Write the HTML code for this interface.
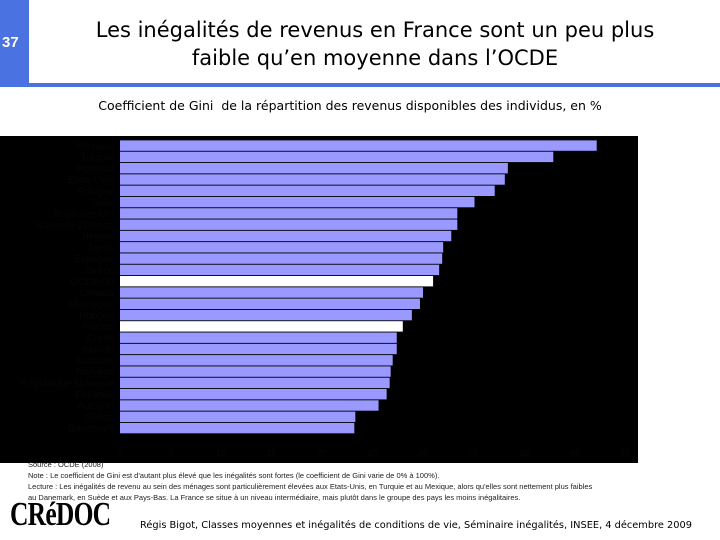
<!DOCTYPE html>
<html><head><meta charset="utf-8"><style>
body{margin:0;width:720px;height:540px;background:#fff;position:relative;overflow:hidden;font-family:"Liberation Sans",sans-serif}
.a{position:absolute}
</style></head><body>
<div class="a" style="left:0;top:0;width:29px;height:84px;background:#4a72e0"></div>
<div class="a" style="left:2px;top:34px;color:#fff;font-weight:bold;font-size:15px">37</div>
<div class="a" style="left:0;top:83px;width:720px;height:4px;background:#4a72e0"></div>
<div class="a" style="left:30px;top:16px;width:690px;text-align:center;font-family:'DejaVu Sans',sans-serif;font-size:21px;line-height:28px;color:#000">Les inégalités de revenus en France sont un peu plus<br>faible qu’en moyenne dans l’OCDE</div>
<div class="a" style="left:0;top:98px;width:700px;text-align:center;font-family:'DejaVu Sans',sans-serif;font-size:12.5px;color:#000">Coefficient de Gini &nbsp;de la répartition des revenus disponibles des individus, en %</div>
<svg class="a" style="left:0;top:0" width="720" height="540">
<rect x="0" y="136" width="638" height="327" fill="#000"/>
<g id="bars"></g><g id="ticks"></g>
</svg>
<div class="a" style="left:28px;top:459px;font-size:7.5px;line-height:11px;color:#222;width:690px">Source : OCDE (2008)<br>Note : Le coefficient de Gini est d'autant plus élevé que les inégalités sont fortes (le coefficient de Gini varie de 0% à 100%).<br>Lecture : Les inégalités de revenu au sein des ménages sont particulièrement élevées aux Etats-Unis, en Turquie et au Mexique, alors qu'elles sont nettement plus faibles<br>au Danemark, en Suède et aux Pays-Bas. La France se situe à un niveau intermédiaire, mais plutôt dans le groupe des pays les moins inégalitaires.</div>
<div class="a" style="left:10px;top:496px;font-family:'Liberation Serif',serif;font-weight:bold;font-size:34px;transform:scaleX(0.75);transform-origin:left;letter-spacing:-1px">CRéDOC</div>
<div class="a" style="left:140px;top:520px;font-family:'DejaVu Sans',sans-serif;font-size:9.8px;white-space:nowrap;color:#000">Régis Bigot, Classes moyennes et inégalités de conditions de vie, Séminaire inégalités, INSEE, 4 décembre 2009</div>
<script>
const countries=["Mexique","Turquie","Portugal","Etats-Unis","Pologne","Italie","Royaume-Uni","Nouvelle-Zélande","Irlande","Japon","Espagne","Grèce","OCDE-30","Canada","Allemagne","Hongrie","France","Corée","Islande","Australie","Norvège","République slovaque","Finlande","Autriche","Suède","Danemark"];
const gini=[47.2,42.9,38.4,38.1,37.1,35.1,33.4,33.4,32.8,32.0,31.9,31.6,31.0,30.0,29.7,28.9,28.0,27.4,27.4,27.0,26.8,26.7,26.4,25.6,23.3,23.2];
const highlight=["OCDE-30","France"];
const tickVals=[0,5,10,15,20,25,30,35,40,45,50];
const x0=120,pxPer=10.1,y0=140,pitch=11.3;
const X=v=>x0+v*pxPer, Y=i=>y0+i*pitch;
const NS="http://www.w3.org/2000/svg";
const g=document.getElementById('bars');
countries.forEach((c,i)=>{
 const r=document.createElementNS(NS,'rect');
 r.setAttribute('x',x0);r.setAttribute('y',Y(i)+0.4);
 r.setAttribute('width',X(gini[i])-x0);r.setAttribute('height',pitch-0.9);
 r.setAttribute('fill',highlight.includes(c)?'#fff':'#9999ff');
 
 
 g.appendChild(r);
 const t=document.createElementNS(NS,'text');
 t.setAttribute('x',x0-6);t.setAttribute('y',Y(i)+pitch/2+3.5);
 t.setAttribute('text-anchor','end');t.setAttribute('font-size','10');t.setAttribute('fill','#070707');
 t.textContent=c;
 
 
 g.appendChild(t);
});
const tg=document.getElementById('ticks');
tickVals.forEach(v=>{
 const t=document.createElementNS(NS,'text');
 t.setAttribute('x',X(v));t.setAttribute('y',456);
 t.setAttribute('text-anchor','middle');t.setAttribute('font-size','9');t.setAttribute('fill','#070707');
 t.textContent=v;
 
 
 tg.appendChild(t);
});
</script>
</body></html>
